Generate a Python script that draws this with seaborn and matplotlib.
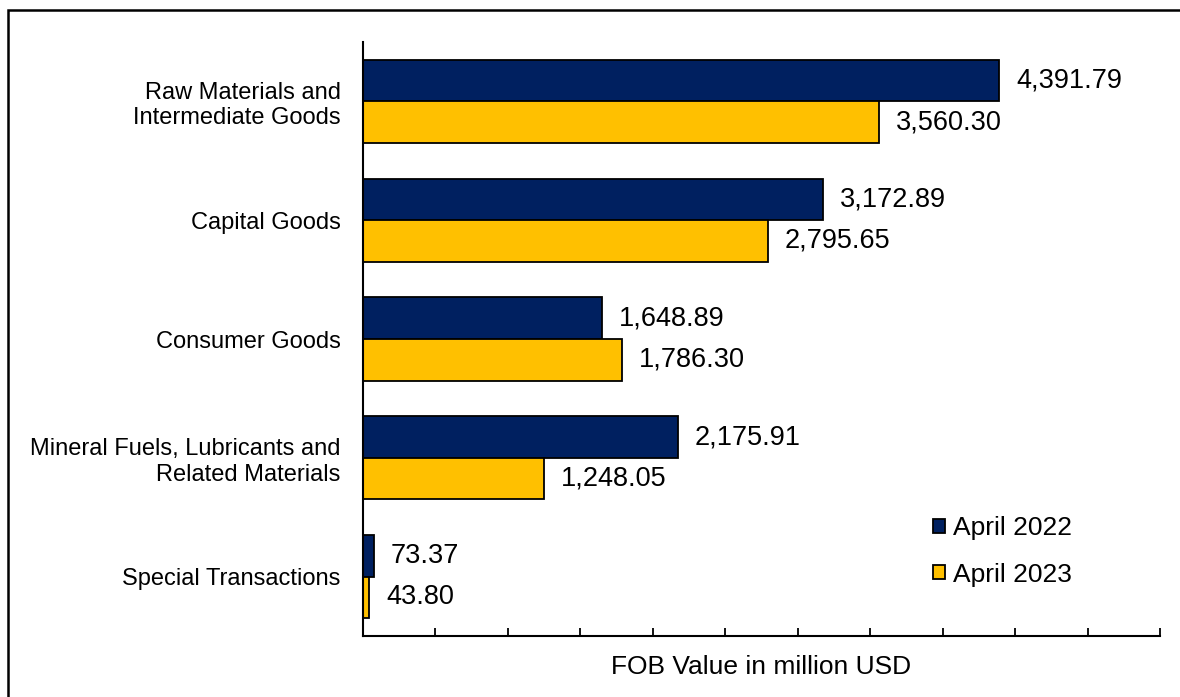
import matplotlib
matplotlib.use("Agg")
import matplotlib.pyplot as plt
from matplotlib.patches import Rectangle
import seaborn as sns
import pandas as pd
import numpy as np

categories = ["Raw Materials and\nIntermediate Goods", "Capital Goods", "Consumer Goods",
              "Mineral Fuels, Lubricants and\nRelated Materials", "Special Transactions"]
values_2022 = [4391.79, 3172.89, 1648.89, 2175.91, 73.37]
values_2023 = [3560.30, 2795.65, 1786.30, 1248.05, 43.80]
series = ["April 2022", "April 2023"]
colors = ["#002060", "#FFC000"]

df = pd.DataFrame({
    "category": categories * 2,
    "value": values_2022 + values_2023,
    "period": [series[0]] * len(categories) + [series[1]] * len(categories),
})

sns.set_theme(style="white")
plt.rcParams['font.family'] = ['Liberation Sans', 'DejaVu Sans']
plt.rcParams['text.color'] = 'black'
plt.rcParams['xtick.color'] = 'black'
plt.rcParams['ytick.color'] = 'black'
plt.rcParams['axes.labelcolor'] = 'black'

fig = plt.figure(figsize=(11.8, 6.97), dpi=100)
ax = fig.add_axes([363/1180, 1-636/697, (1160-363)/1180, (636-42)/697])

sns.barplot(data=df, y="category", x="value", hue="period", palette=colors,
            orient="h", width=0.7, edgecolor="black", linewidth=1.3, ax=ax,
            order=categories, hue_order=series, saturation=1)

for cont, vals in zip(ax.containers, [values_2022, values_2023]):
    ax.bar_label(cont, labels=[f"{v:,.2f}" for v in vals], padding=12,
                 fontsize=19.5, color="black")

ax.set_xlim(0, 5500)
ax.set_ylim(4.5, -0.5)
ax.set_xticks(np.arange(0, 5501, 500))
ax.set_xticklabels([])
ax.tick_params(axis="x", direction="in", length=6, width=1.3, color="black", bottom=True)
ax.tick_params(axis="y", length=0, pad=16, labelsize=17, labelcolor="black")
for lbl in ax.get_yticklabels():
    lbl.set_horizontalalignment("right")
ax.set_ylabel("")
ax.set_xlabel("FOB Value in million USD", fontsize=19, labelpad=10, color="black")
for s in ["top", "right"]:
    ax.spines[s].set_visible(False)
for s in ["left", "bottom"]:
    ax.spines[s].set_color("black")
    ax.spines[s].set_linewidth(1.5)
ax.grid(False)

handles, labels = ax.get_legend_handles_labels()
leg = ax.legend(handles, labels, loc="center left", bbox_to_anchor=(933/1180, 1-551.5/697),
                bbox_transform=fig.transFigure, frameon=False, fontsize=19,
                handlelength=0.45, handleheight=0.45, handletextpad=0.3, labelspacing=0.85,
                borderpad=0, borderaxespad=0)
for t in leg.get_texts():
    t.set_color("black")

fig.patches.append(Rectangle((8/1180, -0.2), 1.5, 1-10/697+0.2, transform=fig.transFigure,
                             fill=False, edgecolor="black", linewidth=1.8, zorder=10))

fig.savefig("out.png", dpi=100)
